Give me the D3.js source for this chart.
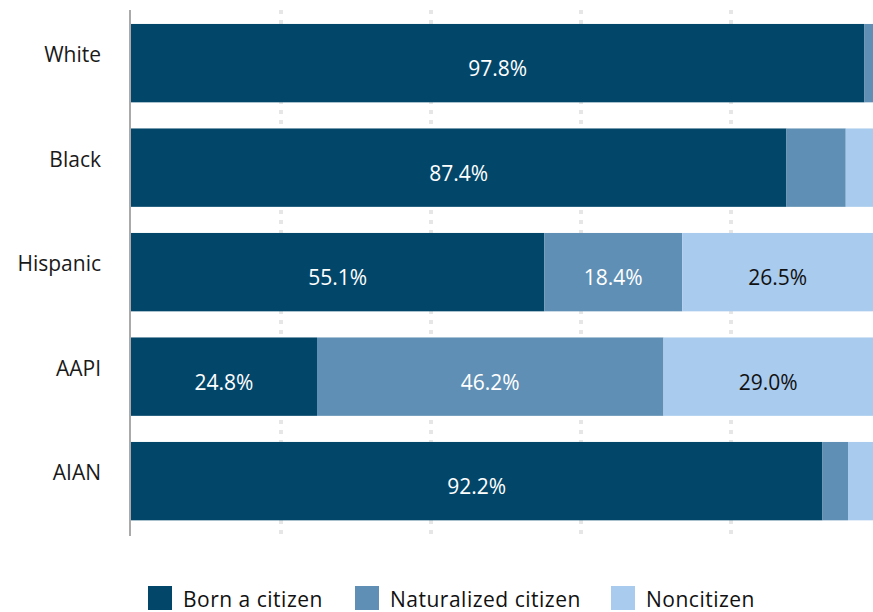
<!DOCTYPE html>
<html>
<head>
<meta charset="utf-8">
<script src="https://cdn.jsdelivr.net/npm/d3@7/dist/d3.min.js"></script>
<style>
  html, body { margin: 0; padding: 0; background: #fff; }
  svg { display: block; font-family: "Open Sans", "Lato", sans-serif; }
</style>
</head>
<body>
<svg id="chart" width="873" height="612"></svg>
<script>
// Citizenship status by race/ethnicity (percent of group)
const categories = ["White", "Black", "Hispanic", "AAPI", "AIAN"];
const seriesNames = ["Born a citizen", "Naturalized citizen", "Noncitizen"];
const bornCitizen = [97.8, 87.4, 55.1, 24.8, 92.2];
const naturalized = [1.8, 7.9, 18.4, 46.2, 3.4];
const noncitizen = [0.4, 4.7, 26.5, 29.0, 4.4];
const gridTicks = [0, 20, 40, 60, 80, 100];

const colors = ["#02466a", "#5f8fb4", "#a9cbed"];
const labelColors = ["#ffffff", "#ffffff", "#111111"];
const labelThreshold = 10;

const svg = d3.select("#chart");

const x = d3.scaleLinear().domain([0, 100]).range([131, 881]);
const y = d3.scaleBand().domain(categories)
  .range([10.9, 533.4]).paddingInner(0.25).paddingOuter(0.125);

// Dotted vertical gridlines
svg.append("g").selectAll("line")
  .data(gridTicks.slice(1))
  .join("line")
  .attr("x1", d => x(d)).attr("x2", d => x(d))
  .attr("y1", 10).attr("y2", 536)
  .attr("stroke", "#e6e6e6")
  .attr("stroke-width", 4)
  .attr("stroke-dasharray", "4,6");

// Stack the three series
const rows = categories.map((c, i) => ({
  category: c,
  "Born a citizen": bornCitizen[i],
  "Naturalized citizen": naturalized[i],
  "Noncitizen": noncitizen[i]
}));
const stacked = d3.stack().keys(seriesNames)(rows);

const layers = svg.append("g").selectAll("g")
  .data(stacked)
  .join("g")
  .attr("fill", (d, i) => colors[i]);

layers.selectAll("rect")
  .data(d => d)
  .join("rect")
  .attr("x", d => x(d[0]))
  .attr("width", d => x(d[1]) - x(d[0]))
  .attr("y", d => y(d.data.category))
  .attr("height", y.bandwidth());

// Value labels inside segments wide enough to hold them
stacked.forEach((layer, si) => {
  svg.append("g").selectAll("text")
    .data(layer.filter(d => d[1] - d[0] >= labelThreshold))
    .join("text")
    .attr("x", d => (x(d[0]) + Math.min(x(d[1]), 873)) / 2)
    .attr("y", d => y(d.data.category) + y.bandwidth() / 2 + 13)
    .attr("text-anchor", "middle")
    .attr("fill", labelColors[si])
    .attr("font-size", 21)
    .text(d => (d[1] - d[0]).toFixed(1) + "%");
});

// Category axis
const yAxis = svg.append("g")
  .attr("transform", `translate(${x(0)},0)`)
  .call(d3.axisLeft(y).tickSize(0).tickPadding(30));
yAxis.select(".domain").remove();
yAxis.selectAll("text")
  .attr("font-size", 21)
  .attr("fill", "#1a1a1a")
  .attr("font-family", "'Open Sans', sans-serif")
  .attr("dy", null)
  .attr("y", -1);

svg.append("line")
  .attr("x1", x(0) - 1).attr("x2", x(0) - 1)
  .attr("y1", 10).attr("y2", 536)
  .attr("stroke", "#aaaaaa").attr("stroke-width", 2);

// Legend
const legendX = [148, 355, 611];
const legend = svg.append("g").selectAll("g")
  .data(seriesNames)
  .join("g")
  .attr("transform", (d, i) => `translate(${legendX[i]},586)`);
legend.append("rect")
  .attr("width", 24).attr("height", 24)
  .attr("fill", (d, i) => colors[i]);
legend.append("text")
  .attr("x", 35).attr("y", 21)
  .attr("font-size", 21)
  .attr("letter-spacing", 0.5)
  .attr("fill", "#111")
  .text(d => d);
</script>
</body>
</html>
